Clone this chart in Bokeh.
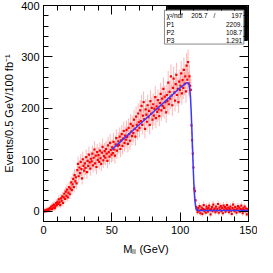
import numpy as np
from bokeh.plotting import figure
from bokeh.models import (LinearAxis, SingleIntervalTicker, Range1d, ColumnDataSource,
                          CustomJSTickFormatter)
from bokeh.core.properties import value
from bokeh.embed import file_html
from bokeh.resources import INLINE

FONT = "Liberation Sans"

# histogram: 300 bins of 0.5 GeV from 0 to 150 GeV (events per bin)
bin_width = 0.5
counts = [
    0, 1, 0, 2, 1, 3, 2, 4, 3, 6,
    5, 9, 4, 11, 7, 13, 6, 10, 16, 12,
    18, 14, 23, 17, 12, 25, 20, 29, 16, 27,
    34, 24, 38, 30, 42, 27, 36, 47, 33, 44,
    56, 41, 52, 63, 47, 70, 58, 66, 54, 80,
    92, 68, 85, 74, 96, 82, 64, 101, 88, 79,
    93, 84, 105, 76, 98, 88, 110, 95, 83, 102,
    97, 112, 89, 104, 120, 93, 108, 86, 115, 100,
    109, 96, 118, 103, 92, 114, 125, 99, 107, 117,
    104, 121, 112, 98, 128, 115, 106, 133, 119, 110,
    124, 113, 135, 120, 108, 130, 142, 118, 127, 136,
    129, 145, 121, 138, 150, 127, 141, 156, 133, 147,
    139, 158, 144, 131, 162, 150, 137, 170, 155, 146,
    166, 152, 178, 160, 145, 184, 168, 157, 190, 173,
    162, 196, 175, 205, 168, 186, 212, 179, 160, 198,
    188, 174, 206, 183, 195, 168, 214, 190, 201, 178,
    208, 186, 199, 222, 181, 204, 193, 216, 198, 185,
    210, 228, 196, 219, 205, 238, 201, 223, 212, 192,
    226, 214, 250, 208, 232, 219, 262, 225, 206, 240,
    258, 231, 215, 247, 265, 226, 238, 212, 252, 236,
    244, 268, 229, 255, 240, 275, 248, 262, 233, 283,
    256, 290, 248, 262, 244, 236, 167, 138, 112, 85,
    44, 39, 21, 8, 3, -2, 6, 1, 10, -4,
    2, 7, -5, 4, 12, 0, 3, -3, 9, 5,
    -1, 6, 11, 2, -6, 4, 8, 0, 13, 3,
    5, -2, 9, 1, 4, 14, -3, 7, 2, 10,
    0, 6, -4, 11, 3, 8, -1, 5, 12, 2,
    7, -2, 4, 9, 1, -5, 6, 13, 3, 0,
    8, 2, -3, 5, 10, 1, 7, -1, 4, 11,
    3, -4, 6, 2, 9, 0, 5, -6, 1, 4,
]

# fitted curve
fit_x = [50, 60, 70, 80, 90, 100, 104, 105, 106, 106.5, 107, 107.5, 108,
         108.5, 109, 109.5, 110, 110.5, 111, 111.5, 112, 113, 150]
fit_y = [120, 144, 168, 192, 216, 240, 248, 250, 249, 246, 238, 223, 198,
         164, 125, 88, 55, 30, 15, 6, 3, 1.3, 1.3]

# statistics box
stat_names = ["χ²/ndf", "P1", "P2", "P3"]
stat_values = ["197", "2209.", "108.7", "1.291"]
chi2_value = "205.7"

x_ticks_interval = 50
y_ticks_interval = 100

# ---------------------------------------------------------------
y = np.array(counts, dtype=float)
x = (np.arange(len(y)) + 0.5) * bin_width
err = np.sqrt(2 * np.abs(y) + 20)
src = ColumnDataSource(dict(x=x, y=y, lo=y - err, hi=y + err))

p = figure(width=257, height=257, x_range=Range1d(0, 150), y_range=Range1d(-20, 400),
           output_backend="svg", toolbar_location=None,
           min_border_left=36, min_border_right=9, min_border_top=5, min_border_bottom=31)
p.grid.visible = False
p.outline_line_color = "black"
p.outline_line_width = 1
p.background_fill_color = "white"
p.border_fill_color = "white"

xt = SingleIntervalTicker(interval=x_ticks_interval, num_minor_ticks=5)
yt = SingleIntervalTicker(interval=y_ticks_interval, num_minor_ticks=5)


def style(ax, show_labels=True):
    ax.major_tick_in = 9
    ax.major_tick_out = 0
    ax.minor_tick_in = 5
    ax.minor_tick_out = 0
    ax.axis_line_color = "black"
    ax.major_tick_line_color = "black"
    ax.minor_tick_line_color = "black"
    ax.major_label_text_font = FONT
    ax.major_label_text_color = "black"
    ax.major_label_text_font_size = "11px"
    ax.axis_label_text_font = FONT
    ax.axis_label_text_font_style = "normal"
    ax.axis_label_text_font_size = "11px"
    ax.axis_label_text_color = "black"
    if show_labels:
        ax.major_label_standoff = 4
    else:
        ax.formatter = CustomJSTickFormatter(code="return ''")
        ax.major_label_standoff = 0


p.xaxis[0].ticker = xt
p.yaxis[0].ticker = yt
style(p.xaxis[0])
style(p.yaxis[0])
p.xaxis[0].axis_label = "Mₗₗ (GeV)"
p.xaxis[0].axis_label_standoff = 6
p.yaxis[0].axis_label = "Events/0.5 GeV/100 fb⁻¹"
p.yaxis[0].axis_label_standoff = 3

top = LinearAxis(ticker=SingleIntervalTicker(interval=x_ticks_interval, num_minor_ticks=5))
right = LinearAxis(ticker=SingleIntervalTicker(interval=y_ticks_interval, num_minor_ticks=5))
style(top, False)
style(right, False)
p.add_layout(top, "above")
p.add_layout(right, "right")

# data
p.segment("x", "lo", "x", "hi", source=src, line_color="#ff6060", line_alpha=0.45, line_width=1)
p.scatter("x", "y", source=src, marker="square", size=2.2, fill_color="red",
          line_color=None)

# fit
p.line(fit_x, fit_y, line_color="#3a3aff", line_width=1.5)

# stats box (shadow + box)
box_l, box_r, box_t, box_b = 88.5, 146.6, 391, 325
p.quad(left=[box_l + 2], right=[box_r + 2.6], top=[box_t + 7], bottom=[box_b + 7],
       fill_color="black", line_color="black")
p.quad(left=[box_l], right=[box_r], top=[box_t], bottom=[box_b],
       fill_color="white", line_color="#888888", line_width=1)
row_y = [381, 364, 347, 331]
p.text(x=[box_l + 1.5] * 4, y=row_y, text=stat_names, text_font=value(FONT),
       text_font_size="6.5px", text_baseline="middle", text_align="left", text_color="black")
p.text(x=[box_r - 1.2] * 4, y=row_y, text=stat_values, text_font=value(FONT),
       text_font_size="6.5px", text_baseline="middle", text_align="right", text_color="black")
p.text(x=[120], y=[row_y[0]], text=[chi2_value], text_font=value(FONT),
       text_font_size="6.5px", text_baseline="middle", text_align="right", text_color="black")
p.text(x=[125], y=[row_y[0]], text=["/"], text_font=value(FONT),
       text_font_size="6.5px", text_baseline="middle", text_align="center", text_color="black")

open("out.html", "w").write(file_html(p, INLINE))
